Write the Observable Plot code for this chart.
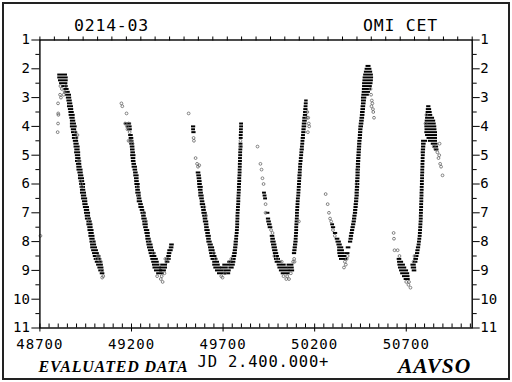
<!DOCTYPE html>
<html><head><meta charset="utf-8">
<script src="https://cdn.jsdelivr.net/npm/d3@7"></script>
<script src="https://cdn.jsdelivr.net/npm/@observablehq/plot@0.6"></script>
<style>
html,body{margin:0;padding:0;background:#fff;}
#wrap{position:relative;width:512px;height:382px;overflow:hidden;background:#fff;}
#border{position:absolute;left:2px;top:2px;width:504px;height:374px;border:2px solid #222;pointer-events:none;}
#wrap g[aria-label="x-axis tick label"] text{letter-spacing:1px;}
#wrap g[aria-label="text"] text{letter-spacing:0.8px;}
</style></head><body><div id="wrap"><div id="border"></div></div>
<script>
// ---- texts ----
const starId = "0214-03";
const starName = "OMI CET";
const xTitle = "JD 2.400.000+";
const leftNote = "EVALUATED DATA";
const rightNote = "AAVSO";

// ---- axes ----
const jdDomain = [48700, 51060];
const jdLabels = [48700, 49200, 49700, 50200, 50700];
const topTicks = [48700,48779,48857,48936,49015,49093,49172,49251,49329,49408,49487,49565,49644,49723,49801,49880,49959,50037,50116,50195,50273,50352,50431,50509,50588,50667,50745,50824,50903,50981,51060];
const magLabels = [1,2,3,4,5,6,7,8,9,10,11];
const magHalf = [1.5,2.5,3.5,4.5,5.5,6.5,7.5,8.5,9.5,10.5];

// ---- observations: [JD, magnitude, half time-spread of the cluster (days)] ----
const cycle1 = [
[48824,2.2,20],[48826,2.3,22],[48828,2.4,20],[48830,2.5,16],[48836,2.6,12],
[48845,2.7,8],[48851,2.8,8],[48856,2.9,10],[48859,3.0,8],[48862,3.1,8],[48865,3.2,8],[48867,3.3,10],[48870,3.4,8],[48873,3.5,8],[48876,3.6,10],[48878,3.7,8],[48881,3.8,8],[48883,3.9,10],[48885,4.0,12],[48886,4.1,8],[48889,4.2,10],[48892,4.3,8],[48894,4.4,10],[48897,4.5,8],[48900,4.6,8],[48903,4.7,10],[48905,4.8,8],[48906,4.9,10],[48908,5.0,8],[48910,5.1,8],[48911,5.2,10],[48914,5.3,8],[48916,5.4,8],[48919,5.5,10],[48922,5.6,8],[48925,5.7,8],[48927,5.8,10],[48930,5.9,8],[48933,6.0,10],[48934,6.1,8],[48936,6.2,8],[48938,6.3,10],[48941,6.4,8],[48944,6.5,10],[48947,6.6,8],[48949,6.7,8],[48954,6.8,10],[48957,6.9,8],[48960,7.0,10],[48962,7.1,8],[48965,7.2,10],[48971,7.3,8],[48973,7.4,10],[48976,7.5,8],[48979,7.6,10],[48982,7.7,8],[48984,7.8,10],[48987,7.9,8],[48990,8.0,10],[48993,8.1,10],[48996,8.2,12],[49001,8.3,12],[49006,8.4,12],[49012,8.5,14],[49017,8.6,14],[49023,8.7,14],[49028,8.8,12],[49033,8.9,10],[49036,9.0,8],[49042,9.1,6]
];
const cycle2 = [
[49182,3.9,12],[49189,4.0,8],[49192,4.1,6],[49197,4.3,6],[49200,4.4,6],[49201,4.5,6],[49203,4.6,6],[49206,4.7,6],[49207,4.8,6],[49209,4.9,6],[49210,5.0,8],[49211,5.1,6],[49212,5.2,6],[49215,5.3,6],[49218,5.4,8],[49221,5.5,6],[49224,5.6,6],[49227,5.7,8],[49229,5.8,6],[49230,5.9,6],[49233,6.0,8],[49234,6.1,6],[49236,6.2,6],[49238,6.3,8],[49241,6.4,6],[49244,6.5,6],[49246,6.6,8],[49252,6.7,6],[49255,6.8,8],[49260,6.9,6],[49266,7.0,8],[49268,7.1,6],[49271,7.2,8],[49274,7.3,6],[49277,7.4,8],[49279,7.5,6],[49285,7.6,8],[49288,7.7,8],[49290,7.8,6],[49293,7.9,8],[49296,8.0,8],[49301,8.1,10],[49304,8.2,10],[49309,8.3,10],[49315,8.4,12],[49320,8.5,12],[49326,8.6,14],[49331,8.7,14],
[49335,8.8,14],[49378,8.8,12],[49340,8.9,16],[49376,8.9,14],[49348,9.0,16],[49372,9.0,12],[49358,9.1,14],
[49397,8.7,6],[49402,8.6,8],[49405,8.5,6],[49408,8.4,6],[49413,8.3,8],[49419,8.2,6],[49421,8.1,6]
];
const cycle3 = [
[49539,4.0,5],[49539,4.1,4],[49541,4.2,5],
[49566,5.6,6],[49569,5.7,6],[49571,5.8,6],[49573,5.9,6],[49574,6.0,6],[49577,6.1,8],[49578,6.2,6],[49580,6.3,6],[49582,6.4,8],[49585,6.5,6],[49588,6.6,6],[49590,6.7,8],[49593,6.8,6],[49596,6.9,6],[49599,7.0,8],[49601,7.1,6],[49604,7.2,6],[49607,7.3,8],[49610,7.4,6],[49612,7.5,6],[49615,7.6,8],[49618,7.7,6],[49621,7.8,8],[49623,7.9,6],[49626,8.0,8],[49632,8.1,8],[49637,8.2,10],[49640,8.3,10],[49643,8.4,10],[49648,8.5,12],[49653,8.6,12],
[49662,8.7,12],[49740,8.7,8],[49664,8.8,14],[49719,8.8,14],[49670,8.9,14],[49708,8.9,14],[49746,8.9,8],[49681,9.0,16],[49724,9.0,14],[49690,9.1,14],[49725,9.1,10],
[49752,8.8,8],[49756,8.7,7],[49759,8.6,6],[49762,8.5,6],[49765,8.4,6],[49767,8.3,5],[49769,8.2,5],[49771,8.1,5],[49772,8.0,5],[49774,7.9,4],[49775,7.8,4],[49777,7.7,4],[49778,7.6,4],[49779,7.5,4],[49780,7.4,4],[49780,7.3,4],[49781,7.2,4],[49781,7.1,4],[49782,7.0,4],[49783,6.9,4],[49784,6.8,4],[49785,6.7,4],[49786,6.6,4],[49786,6.5,4],[49787,6.4,4],[49788,6.3,4],[49789,6.2,4],[49789,6.1,4],[49790,6.0,4],[49791,5.9,4],[49791,5.8,4],[49792,5.7,4],[49793,5.6,4],[49793,5.5,4],[49794,5.4,4],[49794,5.3,4],[49795,5.2,4],[49795,5.1,4],[49796,5.0,4],[49796,4.9,4],[49797,4.8,4],[49798,4.7,4],[49798,4.6,4],[49799,4.4,4],[49799,4.3,4],[49800,4.2,4],[49800,4.1,4],[49801,4.0,4],[49801,3.9,4]
];
const cycle4 = [
[49926,6.3,4],[49929,6.4,4],[49932,6.5,4],[49945,7.0,4],[49948,7.2,5],[49951,7.3,6],[49955,7.4,6],[49959,7.5,6],
[49970,7.8,6],[49973,7.9,6],[49975,8.0,8],[49979,8.1,8],[49982,8.2,8],[49985,8.3,8],[49989,8.4,8],[49993,8.5,8],[49997,8.6,10],[50003,8.7,12],
[50020,8.8,18],[50068,8.8,12],[50028,8.9,22],[50072,8.9,10],[50036,9.0,22],[50076,9.0,8],[50042,9.1,18],
[50090,8.4,5],[50092,8.3,5],[50094,8.2,5],[50096,8.1,5],[50098,8.0,5],[50099,7.9,4],[50100,7.8,4],[50101,7.7,4],[50102,7.6,4],[50102,7.5,4],[50103,7.4,4],[50104,7.3,4],[50105,7.2,4],[50106,7.1,4],[50106,7.0,4],[50107,6.9,4],[50108,6.8,4],[50109,6.7,4],[50110,6.6,4],[50111,6.5,4],[50113,6.4,4],[50114,6.3,4],[50115,6.2,4],[50116,6.1,4],[50117,6.0,4],[50118,5.9,4],[50119,5.8,4],[50120,5.7,5],[50121,5.6,4],[50122,5.5,4],[50123,5.4,4],[50124,5.3,4],[50126,5.2,4],[50127,5.1,4],[50129,5.0,4],[50130,4.9,4],[50132,4.8,5],[50133,4.7,4],[50135,4.6,4],[50136,4.5,4],[50138,4.4,5],[50139,4.3,4],[50141,4.2,5],[50142,4.1,5],[50144,4.0,6],[50145,3.9,6],[50147,3.8,6],[50148,3.7,6],[50150,3.6,5],[50151,3.5,5],[50152,3.4,5],[50153,3.3,4],[50154,3.2,4],[50155,3.1,3]
];
const cycle5 = [
[50298,7.4,4],[50303,7.5,5],[50314,7.7,5],[50325,7.9,6],[50331,8.0,8],[50336,8.1,8],[50342,8.2,10],[50344,8.3,12],[50347,8.4,14],[50352,8.5,16],[50358,8.6,16],[50385,8.2,6],[50380,8.4,6],
[50396,8.0,5],[50399,7.9,5],[50401,7.8,5],[50404,7.7,5],[50407,7.6,5],[50410,7.5,5],[50413,7.4,5],[50416,7.3,5],[50418,7.2,5],[50420,7.1,5],[50423,7.0,5],[50424,6.9,5],[50426,6.8,5],[50427,6.7,5],[50429,6.6,5],[50430,6.5,5],[50432,6.4,5],[50432,6.3,5],[50433,6.2,5],[50434,6.1,5],[50435,6.0,5],[50435,5.9,5],[50436,5.8,5],[50437,5.7,5],[50437,5.6,5],[50438,5.5,5],[50439,5.4,5],[50439,5.3,5],[50440,5.2,5],[50441,5.1,5],[50442,5.0,5],[50443,4.9,5],[50444,4.8,5],[50445,4.7,5],[50446,4.6,5],[50447,4.5,5],[50449,4.4,5],[50450,4.3,5],[50451,4.2,5],[50452,4.1,5],[50454,4.0,6],[50456,3.9,6],[50458,3.8,6],[50460,3.7,6],[50462,3.6,6],[50463,3.5,6],[50465,3.4,6],[50466,3.3,6],[50468,3.2,6],[50469,3.1,7],[50470,3.0,8],
[50478,2.9,14],[50482,2.8,16],[50485,2.7,18],[50488,2.6,20],[50490,2.5,22],[50492,2.4,22],[50493,2.3,22],[50494,2.2,20],[50494,2.1,16],[50494,2.0,12],[50494,1.9,7]
];
const cycle6 = [
[50663,8.6,6],[50669,8.7,10],[50675,8.8,14],[50680,8.9,16],[50688,9.0,18],[50694,9.1,18],[50700,9.2,14],[50705,9.3,10],[50740,8.8,8],[50742,8.9,8],[50745,9.0,6],
[50751,8.7,6],[50754,8.6,6],[50758,8.5,5],[50762,8.4,5],[50764,8.3,5],[50767,8.2,5],[50770,8.1,4],[50772,8.0,4],[50774,7.9,4],[50776,7.8,4],[50777,7.7,4],[50778,7.6,4],[50779,7.5,4],[50780,7.4,4],[50781,7.3,4],[50782,7.2,4],[50782,7.1,4],[50783,7.0,4],[50783,6.9,4],[50784,6.8,4],[50784,6.7,4],[50785,6.6,4],[50785,6.5,4],[50786,6.4,4],[50786,6.3,4],[50787,6.2,4],[50787,6.1,4],[50788,6.0,4],[50788,5.9,4],[50789,5.8,4],[50789,5.7,4],[50790,5.6,4],[50790,5.5,4],[50791,5.4,4],[50791,5.3,4],[50792,5.2,4],[50792,5.1,4],[50793,5.0,4],[50793,4.9,5],[50794,4.8,5],[50795,4.7,5],[50796,4.6,6],[50800,4.5,10],
[50823,3.3,5],[50824,3.4,8],[50825,3.5,10],[50826,3.6,12],[50830,3.7,18],[50832,3.8,22],[50833,3.9,24],[50834,4.0,26],[50835,4.1,26],[50836,4.2,28],[50838,4.3,26],[50842,4.4,22],[50846,4.5,18],[50855,4.6,12],[50862,4.7,8],[50866,4.8,6]
];
// individual (sparser) observations, drawn as open circles
const scattered = [
[48703,7.8],[48799,3.2],[48800,3.55],[48801,3.6],[48799,3.9],[48797,4.2],[48812,2.6],[48820,2.7],[48835,2.8],[48830,2.9],[48842,2.6],[48810,2.9],[48815,3.0],
[48895,4.2],[48900,4.4],[48905,4.3],[48910,5.2],[48916,5.2],[48922,5.9],[48930,6.1],[48927,6.0],[48968,7.2],[48973,7.3],[48995,8.0],[49010,8.6],[49020,8.5],[49030,8.7],[49040,9.0],[49046,9.2],[49040,9.25],[49015,8.5],[49025,8.6],
[49145,3.2],[49150,3.3],[49173,3.55],[49165,3.9],[49175,4.0],[49185,3.9],[49178,4.1],[49190,4.2],[49184,4.5],[49192,4.5],[49198,4.5],[49206,4.6],[49235,6.1],[49240,6.4],[49268,7.0],[49280,7.3],[49300,8.0],[49320,8.4],[49340,9.2],[49360,9.3],[49370,9.4],[49365,9.2],[49380,9.1],[49385,8.6],[49392,8.7],[49398,8.6],
[49512,3.55],[49539,4.4],[49541,4.5],[49550,5.1],[49558,5.3],[49563,5.4],[49570,5.35],[49598,6.8],[49607,7.1],[49650,8.4],[49660,8.6],[49690,9.2],[49697,9.25],[49710,9.1],[49735,8.7],[49745,8.6],[49795,4.5],[49797,4.7],
[49888,4.7],[49904,5.3],[49910,5.5],[49915,5.8],[49921,6.0],[49932,6.7],[49932,7.0],[49962,7.6],[49970,7.7],[49980,8.5],[49995,8.6],[50020,8.7],[50030,9.2],[50045,9.3],[50050,9.2],[50060,9.3],[50070,9.1],[50082,8.7],[50088,8.6],[50090,8.7],[50114,7.3],[50160,3.5],[50165,3.7],[50168,3.9],[50170,4.0],[50163,4.2],[50158,3.7],
[50260,6.35],[50271,6.7],[50278,7.0],[50284,7.2],[50290,7.3],[50300,7.6],[50310,7.8],[50365,8.7],[50370,8.8],[50360,8.9],[50375,8.6],[50380,8.5],[50428,6.0],[50432,5.5],[50505,2.7],[50508,2.9],[50512,3.1],[50515,3.2],[50518,3.4],[50520,3.5],[50524,3.7],[50510,3.3],
[50631,7.7],[50633,7.9],[50636,8.3],[50653,8.3],[50663,8.5],[50700,9.4],[50712,9.5],[50723,9.6],[50715,9.4],[50740,8.7],[50745,8.5],[50810,3.6],[50805,3.9],[50850,4.7],[50860,4.8],[50870,4.9],[50876,5.1],[50880,5.0],[50885,5.3],[50890,5.4],[50898,5.7],[50882,4.6]
];

const clusters = [...cycle1, ...cycle2, ...cycle3, ...cycle4, ...cycle5, ...cycle6];
const minorJD = d3.range(jdDomain[0], jdDomain[1] + 1, 50);
const mono = "DejaVu Sans Mono";
const serif = "Liberation Serif";
const inward = 4 / 28.8; // 4px expressed in magnitudes

const chart = Plot.plot({
  width: 512, height: 382,
  marginLeft: 39.4, marginRight: 40.3, marginTop: 39.5, marginBottom: 54.5,
  style: {fontFamily: mono, background: "#fff", color: "#000"},
  x: {domain: jdDomain},
  y: {domain: [11, 1]},
  marks: [
    Plot.ruleY(clusters, {y: d => d[1], x1: d => d[0] - d[2], x2: d => d[0] + d[2], insetLeft: -1.2, insetRight: -1.2, stroke: "#000", strokeWidth: 2}),
    Plot.dot(scattered, {x: d => d[0], y: d => d[1], r: 1.4, stroke: "#666", strokeWidth: 0.8, fill: "none"}),
    Plot.ruleX(minorJD, {x: d => d, y1: 11, y2: 11 - inward, stroke: "#000", strokeWidth: 1}),
    Plot.axisX({anchor: "top", ticks: topTicks, tickSize: 4, tickFormat: () => "", stroke: "#000"}),
    Plot.axisX({anchor: "bottom", ticks: jdLabels, tickSize: 4, tickPadding: 7, tickFormat: d3.format("d"), fontSize: 14, fill: "#000", stroke: "#000"}),
    Plot.axisY({anchor: "left", ticks: magLabels, tickSize: 8, tickPadding: 2, tickFormat: d3.format("d"), fontSize: 14, fill: "#000", stroke: "#000"}),
    Plot.axisY({anchor: "left", ticks: magHalf, tickSize: 4, tickFormat: () => "", stroke: "#000"}),
    Plot.axisY({anchor: "right", ticks: magLabels, tickSize: 7, tickPadding: 1, tickFormat: d3.format("d"), fontSize: 14, fill: "#000", stroke: "#000"}),
    Plot.axisY({anchor: "right", ticks: magHalf, tickSize: 4, tickFormat: () => "", stroke: "#000"}),
    Plot.frame({stroke: "#000", strokeWidth: 1.4}),
    Plot.text([starId], {frameAnchor: "top-left", dx: 71.6, dy: -20.5, fontSize: 16.5, textAnchor: "middle", fontFamily: mono, fill: "#000"}),
    Plot.text([starName], {frameAnchor: "top-left", dx: 360.6, dy: -20.5, fontSize: 16.5, textAnchor: "middle", fontFamily: mono, fill: "#000"}),
    Plot.text([xTitle], {frameAnchor: "bottom-left", dx: 157.6, dy: 34, lineAnchor: "middle", fontSize: 15.5, textAnchor: "start", fontFamily: mono, fill: "#000"}),
    Plot.text([leftNote], {frameAnchor: "bottom-left", dx: 73.6, dy: 38.5, lineAnchor: "middle", fontSize: 16, textAnchor: "middle", fontFamily: serif, fontWeight: "bold", fontStyle: "italic", fill: "#000"}),
    Plot.text([rightNote], {frameAnchor: "bottom-left", dx: 394.6, dy: 38, lineAnchor: "middle", fontSize: 21.5, textAnchor: "middle", fontFamily: serif, fontWeight: "bold", fontStyle: "italic", fill: "#000"})
  ]
});
const wrap = document.getElementById("wrap");
wrap.insertBefore(chart, wrap.firstChild);
</script>
</body></html>
